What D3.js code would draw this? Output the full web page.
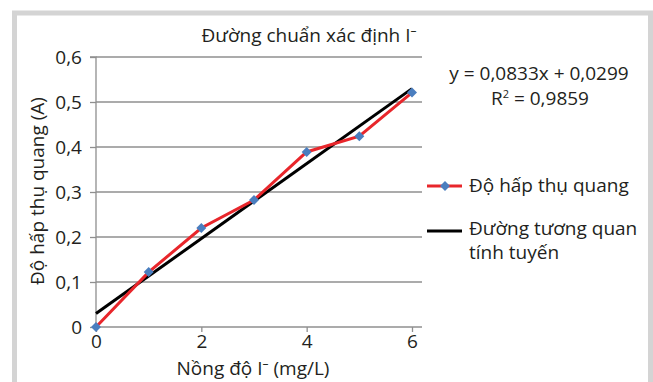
<!DOCTYPE html>
<html>
<head>
<meta charset="utf-8">
<script src="https://cdn.jsdelivr.net/npm/d3@7"></script>
<style>
  body { margin: 0; background: #fff; }
  svg { display: block; font-family: "Open Sans", sans-serif; }
</style>
</head>
<body>
<div id="chart"></div>
<script>
const concentrations = [0, 1, 2, 3, 4, 5, 6];
const absorbance = [0, 0.122, 0.22, 0.282, 0.389, 0.424, 0.521];
const trendX = [0, 6];
const trendY = [0.0299, 0.5297];
const xTicks = [0, 2, 4, 6];
const yTicks = [0, 0.1, 0.2, 0.3, 0.4, 0.5, 0.6];

const width = 653;
const height = 382;
const fontSize = 19;
const ink = "#231f20";
const fmt = (d) => (d === 0 ? "0" : d3.format(".1f")(d).replace(".", ","));

const svg = d3
  .select("#chart")
  .append("svg")
  .attr("width", width)
  .attr("height", height);

// grey frame
svg.append("rect")
  .attr("x", 14.5).attr("y", 13)
  .attr("width", 636).attr("height", 380)
  .attr("fill", "#fff")
  .attr("stroke", "#d4d4d4")
  .attr("stroke-width", 5);

const x = d3.scaleLinear().domain([0, 6.19]).range([96, 422]);
const y = d3.scaleLinear().domain([0, 0.6]).range([327, 57]);

// gridlines
svg.append("g")
  .selectAll("line")
  .data(yTicks.filter((d) => d > 0))
  .join("line")
  .attr("x1", x(0)).attr("x2", x.range()[1])
  .attr("y1", (d) => y(d)).attr("y2", (d) => y(d))
  .attr("stroke", "#8f8f8f")
  .attr("stroke-width", 1.3);

// y axis
const yAxis = svg.append("g")
  .attr("transform", `translate(${x(0)},0)`)
  .call(d3.axisLeft(y).tickValues(yTicks).tickSize(6).tickPadding(8).tickFormat(fmt));
yAxis.selectAll("line, path").attr("stroke", "#8f8f8f").attr("stroke-width", 1.3);
yAxis.select(".domain").attr("d", `M-6,${y(0.6)}H0V${y(0)}`);
yAxis.selectAll("text").attr("font-size", fontSize).attr("fill", ink).attr("font-family", "Open Sans");

// x axis
const xAxis = svg.append("g")
  .attr("transform", `translate(0,${y(0)})`)
  .call(d3.axisBottom(x).tickValues(xTicks).tickSize(5).tickPadding(3).tickFormat(d3.format("d")));
xAxis.selectAll("line, path").attr("stroke", "#8f8f8f").attr("stroke-width", 1.3);
xAxis.select(".domain").attr("d", `M${x.range()[0]},0H${x.range()[1]}`);
xAxis.selectAll("text").attr("font-size", fontSize).attr("fill", ink).attr("font-family", "Open Sans");

// trend line
svg.append("path")
  .datum(trendX.map((d, i) => [d, trendY[i]]))
  .attr("fill", "none")
  .attr("stroke", "#000")
  .attr("stroke-width", 3)
  .attr("d", d3.line().x((d) => x(d[0])).y((d) => y(d[1])));

// measured series
const points = concentrations.map((d, i) => [d, absorbance[i]]);
svg.append("path")
  .datum(points)
  .attr("fill", "none")
  .attr("stroke", "#e8262b")
  .attr("stroke-width", 3)
  .attr("d", d3.line().x((d) => x(d[0])).y((d) => y(d[1])));

const diamond = d3.symbol().type(d3.symbolSquare).size(50);
svg.append("g")
  .selectAll("path")
  .data(points)
  .join("path")
  .attr("transform", (d) => `translate(${x(d[0])},${y(d[1])}) rotate(45)`)
  .attr("d", diamond)
  .attr("fill", "#4a7ebf");

// title
const title = svg.append("text")
  .attr("x", 309).attr("y", 42)
  .attr("text-anchor", "middle")
  .attr("font-size", fontSize)
  .attr("fill", ink);
title.append("tspan").text("Đường chuẩn xác định I");
title.append("tspan").attr("dy", -7).attr("font-size", 12).text("–");

// equation
svg.append("text")
  .attr("x", 539).attr("y", 80)
  .attr("text-anchor", "middle")
  .attr("font-size", fontSize)
  .attr("fill", ink)
  .text("y = 0,0833x + 0,0299");
const r2 = svg.append("text")
  .attr("x", 540).attr("y", 105)
  .attr("text-anchor", "middle")
  .attr("font-size", fontSize)
  .attr("fill", ink);
r2.append("tspan").text("R");
r2.append("tspan").attr("dy", -7).attr("font-size", 11).text("2");
r2.append("tspan").attr("dy", 7).text(" = 0,9859");

// axis titles
const xTitle = svg.append("text")
  .attr("x", 253).attr("y", 375)
  .attr("text-anchor", "middle")
  .attr("font-size", fontSize)
  .attr("fill", ink);
xTitle.append("tspan").text("Nồng độ I");
xTitle.append("tspan").attr("dy", -7).attr("font-size", 12).text("–");
xTitle.append("tspan").attr("dy", 7).text(" (mg/L)");

svg.append("text")
  .attr("transform", `translate(44,191) rotate(-90)`)
  .attr("text-anchor", "middle")
  .attr("font-size", fontSize)
  .attr("fill", ink)
  .text("Độ hấp thụ quang (A)");

// legend
const legend = svg.append("g");
legend.append("line")
  .attr("x1", 427).attr("x2", 462).attr("y1", 186).attr("y2", 186)
  .attr("stroke", "#e8262b").attr("stroke-width", 3);
legend.append("path")
  .attr("transform", "translate(445,186) rotate(45)")
  .attr("d", diamond)
  .attr("fill", "#4a7ebf");
legend.append("text")
  .attr("x", 469).attr("y", 192)
  .attr("font-size", fontSize).attr("fill", ink)
  .text("Độ hấp thụ quang");
legend.append("line")
  .attr("x1", 427).attr("x2", 462).attr("y1", 231).attr("y2", 231)
  .attr("stroke", "#000").attr("stroke-width", 3);
const trendLabel = legend.append("text")
  .attr("y", 235)
  .attr("font-size", fontSize).attr("fill", ink);
trendLabel.append("tspan").attr("x", 469).text("Đường tương quan");
trendLabel.append("tspan").attr("x", 469).attr("dy", 24).text("tính tuyến");
</script>
</body>
</html>
